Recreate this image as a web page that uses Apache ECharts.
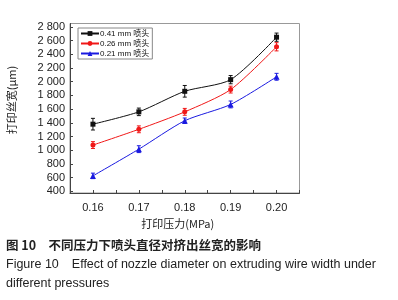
<!DOCTYPE html>
<html><head><meta charset="utf-8">
<script src="https://cdn.jsdelivr.net/npm/echarts@6/dist/echarts.min.js"></script>
<style>html,body{margin:0;padding:0;background:#fff}#c{width:398px;height:300px}</style>
</head><body><div id="c"></div>
<script>
var pressures = [0.16, 0.17, 0.18, 0.19, 0.20];
var seriesNames = ['0.41 mm 喷头', '0.26 mm 喷头', '0.21 mm 喷头'];
var w041 = [1380, 1560, 1860, 2030, 2650];
var w026 = [1075, 1305, 1560, 1885, 2510];
var w021 = [625, 1015, 1430, 1668, 2072];
var e041 = [85, 55, 85, 60, 60];
var e026 = [50, 50, 50, 50, 60];
var e021 = [40, 50, 40, 50, 50];
var yTicks = [400, 600, 800, 1000, 1200, 1400, 1600, 1800, 2000, 2200, 2400, 2600, 2800];
var xTicks = [0.16, 0.17, 0.18, 0.19, 0.20];
var xMinorTicks = [0.155, 0.16, 0.165, 0.17, 0.175, 0.18, 0.185, 0.19, 0.195, 0.20, 0.205];
var yTickLabels = ['400','600','800','1 000','1 200','1 400','1 600','1 800','2 000','2 200','2 400','2 600','2 800'];
var xTickLabels = ['0.16','0.17','0.18','0.19','0.20'];

var colors = ['#111111', '#f01818', '#1a1ae0'];
var symbols = ['rect', 'circle', 'triangle'];
var vals = [w041, w026, w021];
var errs = [e041, e026, e021];

var chart = echarts.init(document.getElementById('c'));
var font = '"Liberation Sans", Arial, "Noto Sans CJK SC", sans-serif';
var series = [];
vals.forEach(function (v, i) {
  series.push({
    name: seriesNames[i], type: 'line', smooth: 0.25,
    data: pressures.map(function (p, j) { return [p, v[j]]; }),
    symbol: symbols[i], symbolSize: i === 2 ? 6 : 5,
    lineStyle: { color: colors[i], width: 1 },
    itemStyle: { color: colors[i] }, z: 3
  });
  series.push({
    type: 'custom', z: 2,
    data: pressures.map(function (p, j) { return [p, v[j] - errs[i][j], v[j] + errs[i][j]]; }),
    renderItem: function (params, api) {
      var lo = api.coord([api.value(0), api.value(1)]);
      var hi = api.coord([api.value(0), api.value(2)]);
      var c = colors[i];
      return { type: 'group', children: [
        { type: 'line', shape: { x1: lo[0], y1: lo[1], x2: hi[0], y2: hi[1] }, style: { stroke: c, lineWidth: 1 } },
        { type: 'line', shape: { x1: lo[0] - 2, y1: lo[1], x2: lo[0] + 2, y2: lo[1] }, style: { stroke: c, lineWidth: 1 } },
        { type: 'line', shape: { x1: hi[0] - 2, y1: hi[1], x2: hi[0] + 2, y2: hi[1] }, style: { stroke: c, lineWidth: 1 } }
      ] };
    },
    encode: { x: 0, y: [1, 2] }
  });
});

chart.setOption({
  animation: false,
  textStyle: { fontFamily: font },
  grid: { left: 70, top: 23.5, width: 229.5, height: 169.5, outerBoundsMode: 'none', containLabel: false, show: true, borderColor: '#999', borderWidth: 1, backgroundColor: 'transparent' },
  legend: {
    orient: 'vertical', left: 78, top: 28,
    data: seriesNames,
    itemWidth: 18, itemHeight: 6, itemGap: 1,
    padding: [1, 3, 1, 2],
    borderColor: '#888', borderWidth: 1, backgroundColor: '#fff',
    textStyle: { fontSize: 8, lineHeight: 9, color: '#111', fontFamily: font, padding: [0, 0, 0, -4] }
  },
  xAxis: {
    type: 'value', min: 0.155, max: 0.205,
    axisLine: { lineStyle: { color: '#444', width: 1 } },
    axisTick: { inside: true, length: 3, customValues: xMinorTicks, lineStyle: { color: '#444' } },
    axisLabel: { customValues: xTicks, formatter: function (v) { var k = xTicks.findIndex(function (t) { return Math.abs(t - v) < 1e-9; }); return k >= 0 ? xTickLabels[k] : ''; }, fontSize: 11, color: '#222', margin: 9 },
    splitLine: { show: false },
    name: '打印压力(MPa)', nameLocation: 'middle', nameGap: 23,
    nameTextStyle: { fontSize: 11, color: '#222', fontFamily: '"Noto Sans CJK SC", "Liberation Sans", sans-serif', padding: [0, 14, 0, 0] }
  },
  yAxis: {
    type: 'value', min: 375, max: 2850,
    axisLine: { lineStyle: { color: '#444', width: 1 } },
    axisTick: { inside: true, length: 3, customValues: yTicks, lineStyle: { color: '#444' } },
    axisLabel: { customValues: yTicks, formatter: function (v) { var k = yTicks.indexOf(Math.round(v)); return k >= 0 ? yTickLabels[k] : ''; }, fontSize: 11, color: '#222', margin: 5 },
    splitLine: { show: false }
  },
  graphic: [
    { type: 'text', x: 12, y: 100, rotation: Math.PI / 2, style: { text: '打印丝宽(μm)', font: '11px "Noto Sans CJK SC", "Liberation Sans", sans-serif', fill: '#222', align: 'center', verticalAlign: 'middle' } },
    { type: 'text', left: 6, top: 239, style: { text: '图 10　不同压力下喷头直径对挤出丝宽的影响', font: 'bold 12.5px "Noto Sans CJK SC", sans-serif', fill: '#222' } },
    { type: 'text', left: 6, top: 258, style: { text: 'Figure 10　Effect of nozzle diameter on extruding wire width under', font: '12.5px "Liberation Sans", Arial, sans-serif', fill: '#222' } },
    { type: 'text', left: 6, top: 277, style: { text: 'different pressures', font: '12.5px "Liberation Sans", Arial, sans-serif', fill: '#222' } }
  ],
  series: series
});
</script></body></html>
